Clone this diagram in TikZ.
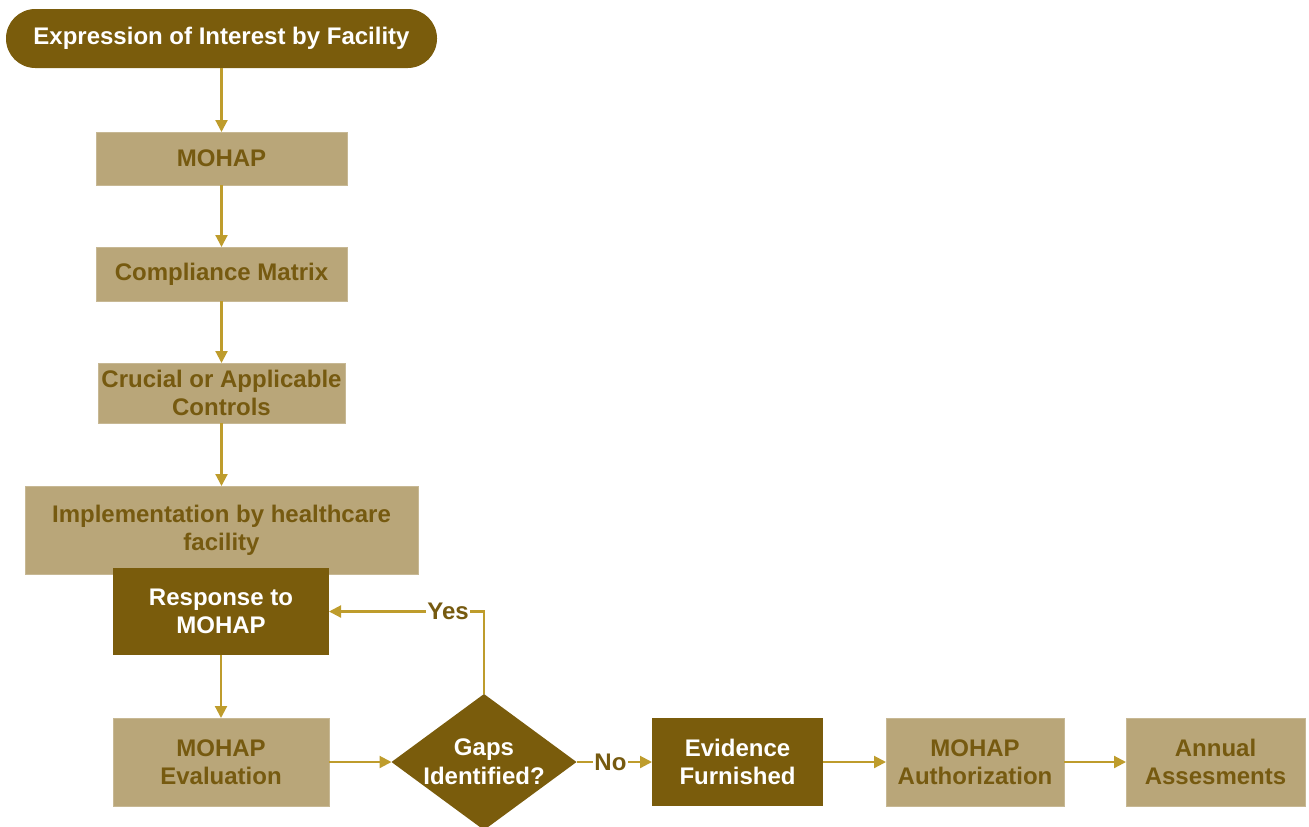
\documentclass[tikz,border=0pt]{standalone}
\usepackage{fontspec}
\setmainfont{Liberation Sans}
\usepackage{tikz}
\usetikzlibrary{shapes.geometric, arrows.meta}

\definecolor{darkbrown}{RGB}{122,92,12}
\definecolor{tanfill}{RGB}{185,166,121}
\definecolor{olivetext}{RGB}{118,90,16}
\definecolor{goldline}{RGB}{190,156,44}

\tikzset{every picture/.style={line width=0.75pt}}
\tikzset{
  basebox/.style={rectangle, inner sep=0pt, outer sep=0pt, align=center,
    font=\fontsize{18}{21}\selectfont\bfseries},
  tanbox/.style={basebox, fill=tanfill, draw=tanfill!80!white, line width=0.6pt, text=olivetext},
  darkbox/.style={basebox, fill=darkbrown, text=white},
  decision/.style={diamond, aspect=1.36, inner sep=0pt, outer sep=0pt, align=center,
    fill=darkbrown, text=white, font=\fontsize{18}{22}\selectfont\bfseries,
    minimum width=138.75pt, minimum height=102pt},
  flow/.style={draw=goldline, line width=1.6pt, -{Triangle[width=9pt,length=9pt]}},
  answer/.style={fill=white, inner sep=1pt, text=olivetext,
    font=\fontsize{18}{21}\selectfont\bfseries}
}

\begin{document}
\begin{tikzpicture}[x=0.75pt,y=0.75pt,yscale=-1,xscale=1]
\useasboundingbox (0,0) rectangle (1309,826);

%Terminator
\node [darkbox, rounded corners=22pt, minimum width=323.25pt, minimum height=44.25pt] (interest) at (221.5,38.5) {Expression of Interest by Facility};
%Process boxes, left column
\node [tanbox, minimum width=188.25pt, minimum height=39.75pt] (mohap) at (221.5,158.5) {MOHAP};
\node [tanbox, minimum width=188.25pt, minimum height=40.5pt] (matrix) at (221.5,274) {Compliance Matrix};
\node [tanbox, minimum width=185.25pt, minimum height=45pt] (controls) at (221.5,393) {Crucial or Applicable\\Controls};
\node [tanbox, minimum width=294.75pt, minimum height=66pt] (implement) at (221.5,530) {Implementation by healthcare\\facility};
\node [darkbox, minimum width=162pt, minimum height=65.25pt] (response) at (221,611.5) {Response to\\MOHAP};
\node [tanbox, minimum width=162pt, minimum height=66pt] (evaluation) at (221,762) {MOHAP\\Evaluation};
%Decision
\node [decision] (gaps) at (484,762) {Gaps\\Identified?};
%Process boxes, bottom row
\node [darkbox, minimum width=128.25pt, minimum height=66pt] (evidence) at (737.5,762) {Evidence\\Furnished};
\node [tanbox, minimum width=133.5pt, minimum height=66pt] (authorization) at (975,762) {MOHAP\\Authorization};
\node [tanbox, minimum width=134.25pt, minimum height=66pt] (annual) at (1215.5,762) {Annual\\Assesments};

%Connectors
\draw [flow] (interest) -- (mohap);
\draw [flow] (mohap) -- (matrix);
\draw [flow] (matrix) -- (controls);
\draw [flow] (controls) -- (implement);
\draw [flow] (response) -- (evaluation);
\draw [flow] (evaluation.east) -- (gaps.west);
\draw [flow] (gaps.north) |- node [answer, pos=0.616] {Yes} (response.east);
\draw [flow] (gaps.east) -- node [answer, pos=0.45] {No} (evidence.west);
\draw [flow] (evidence) -- (authorization);
\draw [flow] (authorization) -- (annual);

\end{tikzpicture}
\end{document}
